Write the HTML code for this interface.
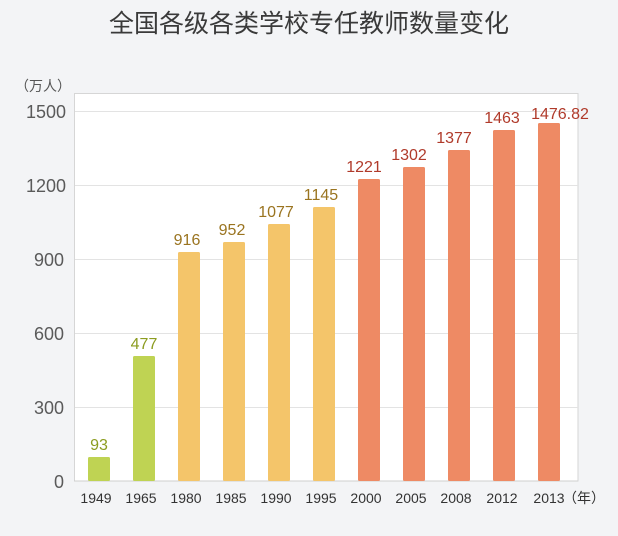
<!DOCTYPE html>
<html><head><meta charset="utf-8"><style>
html,body{margin:0;padding:0;background:#f3f4f6;}
svg{display:block;font-family:"Liberation Sans","Noto Sans CJK SC",sans-serif;}
</style></head><body>
<svg width="618" height="536" viewBox="0 0 618 536">
<rect width="618" height="536" fill="#f3f4f6"/>
<text x="309" y="32" text-anchor="middle" font-size="25" fill="#3a3a3a">全国各级各类学校专任教师数量变化</text>
<rect x="74.5" y="93.5" width="503.5" height="387.5" fill="#fff" stroke="#d6d6d6"/>
<g stroke="#e3e3e3" stroke-width="1">
<line x1="75" x2="578" y1="111.5" y2="111.5"/><line x1="75" x2="578" y1="185.5" y2="185.5"/>
<line x1="75" x2="578" y1="259.5" y2="259.5"/><line x1="75" x2="578" y1="333.5" y2="333.5"/>
<line x1="75" x2="578" y1="407.5" y2="407.5"/>
</g>
<line x1="74" x2="578" y1="481" y2="481" stroke="#cfcfcf"/>
<g font-size="18" fill="#5a5a5a" text-anchor="end">
<text x="66" y="118">1500</text><text x="66" y="192">1200</text><text x="64" y="266">900</text>
<text x="64" y="340">600</text><text x="64" y="414">300</text><text x="64" y="488">0</text>
</g>
<text x="15" y="91" font-size="14" fill="#555">（万人）</text>
<g>
<rect x="88" y="457" width="22" height="24" rx="1.5" fill="#bfd353"/>
<rect x="133" y="356" width="22" height="125" rx="1.5" fill="#bfd353"/>
<rect x="178" y="252" width="22" height="229" rx="1.5" fill="#f4c56a"/>
<rect x="223" y="242" width="22" height="239" rx="1.5" fill="#f4c56a"/>
<rect x="268" y="224" width="22" height="257" rx="1.5" fill="#f4c56a"/>
<rect x="313" y="207" width="22" height="274" rx="1.5" fill="#f4c56a"/>
<rect x="358" y="179" width="22" height="302" rx="1.5" fill="#ee8a64"/>
<rect x="403" y="167" width="22" height="314" rx="1.5" fill="#ee8a64"/>
<rect x="448" y="150" width="22" height="331" rx="1.5" fill="#ee8a64"/>
<rect x="493" y="130" width="22" height="351" rx="1.5" fill="#ee8a64"/>
<rect x="538" y="123" width="22" height="358" rx="1.5" fill="#ee8a64"/>
</g>
<g font-size="16" text-anchor="middle">
<text x="99" y="450" fill="#8c9c20">93</text>
<text x="144" y="349" fill="#8c9c20">477</text>
<text x="187" y="245" fill="#9a7420">916</text>
<text x="232" y="235" fill="#9a7420">952</text>
<text x="276" y="217" fill="#9a7420">1077</text>
<text x="321" y="200" fill="#9a7420">1145</text>
<text x="364" y="172" fill="#b03a2a">1221</text>
<text x="409" y="160" fill="#b03a2a">1302</text>
<text x="454" y="143" fill="#b03a2a">1377</text>
<text x="502" y="123" fill="#b03a2a">1463</text>
<text x="560" y="119" fill="#b03a2a">1476.82</text>
</g>
<g font-size="14" fill="#333" text-anchor="middle">
<text x="96" y="503">1949</text><text x="141" y="503">1965</text><text x="186" y="503">1980</text>
<text x="231" y="503">1985</text><text x="276" y="503">1990</text><text x="321" y="503">1995</text>
<text x="366" y="503">2000</text><text x="411" y="503">2005</text><text x="456" y="503">2008</text>
<text x="502" y="503">2012</text><text x="549" y="503">2013</text>
<text x="584" y="503">（年）</text>
</g>
</svg>
</body></html>
